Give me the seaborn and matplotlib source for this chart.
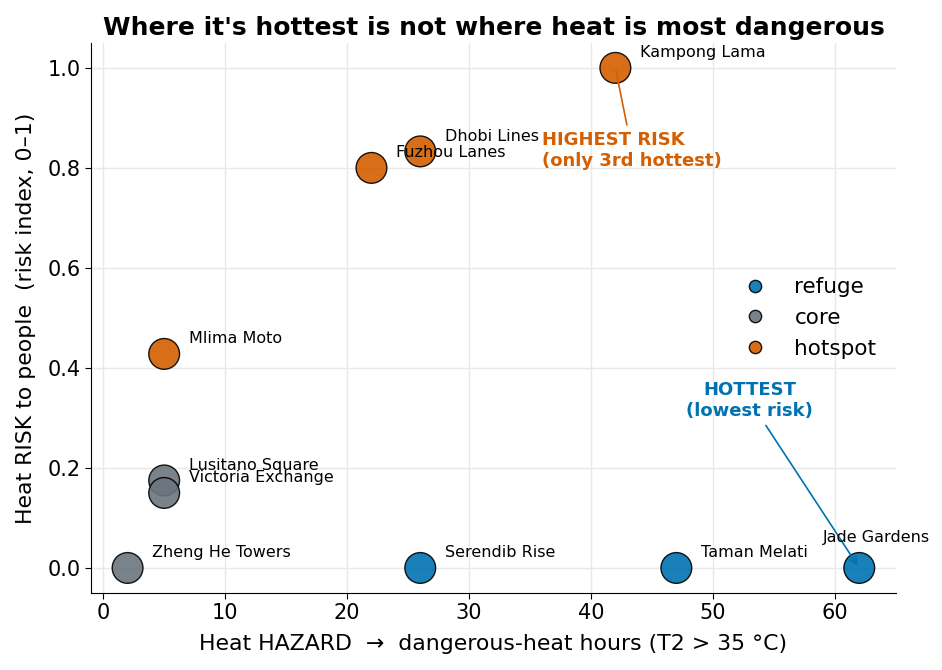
import pandas as pd
import matplotlib
matplotlib.use("Agg")
import matplotlib.pyplot as plt
import seaborn as sns

# data
places = ["Kampong Lama", "Dhobi Lines", "Fuzhou Lanes", "Mlima Moto",
          "Lusitano Square", "Victoria Exchange", "Zheng He Towers",
          "Serendib Rise", "Taman Melati", "Jade Gardens"]
hazard_hours = [42, 26, 22, 5, 5, 5, 2, 26, 47, 62]
risk_index = [1.0, 0.833, 0.8, 0.428, 0.175, 0.15, 0.0, 0.0, 0.0, 0.0]
group = ["hotspot", "hotspot", "hotspot", "hotspot", "core", "core", "core",
         "refuge", "refuge", "refuge"]
group_order = ["refuge", "core", "hotspot"]
colors = {"refuge": "#0072B2", "core": "#6c757d", "hotspot": "#D55E00"}

df = pd.DataFrame({"place": places, "hazard": hazard_hours,
                   "risk": risk_index, "group": group})

sns.set_style("ticks")
plt.rcParams.update({"text.color": "black", "axes.labelcolor": "black",
                     "xtick.color": "black", "ytick.color": "black",
                     "axes.edgecolor": "black"})
fig, ax = plt.subplots(figsize=(9.42, 6.7), dpi=100)

sns.scatterplot(data=df, x="hazard", y="risk", hue="group",
                hue_order=group_order, palette=colors, s=490,
                edgecolor="black", linewidth=1, alpha=0.9, ax=ax, zorder=3)

# point labels
for _, r in df.iterrows():
    if r["place"] == "Jade Gardens":
        ax.text(r["hazard"] - 3, r["risk"] + 0.06, r["place"],
                fontsize=11.5, va="center", ha="left", zorder=4)
    else:
        ax.text(r["hazard"] + 2, r["risk"] + 0.03, r["place"],
                fontsize=11.5, va="center", ha="left", zorder=4)

# call-outs
ax.annotate("HIGHEST RISK\n(only 3rd hottest)", xy=(42, 1.0),
            xytext=(36, 0.835), ha="left", va="center",
            fontsize=13, fontweight="bold", color=colors["hotspot"],
            arrowprops=dict(arrowstyle="-", color=colors["hotspot"], lw=1.2))
ax.annotate("HOTTEST\n(lowest risk)", xy=(62, 0.0),
            xytext=(53, 0.335), ha="center", va="center",
            fontsize=13, fontweight="bold", color=colors["refuge"],
            arrowprops=dict(arrowstyle="->", color=colors["refuge"], lw=1.2))

ax.grid(True, color="#e8e8e8", lw=1)
ax.set_axisbelow(True)
sns.despine(ax=ax)

ax.set_title("Where it's hottest is not where heat is most dangerous",
             fontsize=18, fontweight="bold")
ax.set_xlabel("Heat HAZARD  \u2192  dangerous-heat hours (T2 > 35 \u00b0C)",
              fontsize=15.8, labelpad=8)
ax.set_ylabel("Heat RISK to people  (risk index, 0\u20131)",
              fontsize=15.8, labelpad=8)
ax.tick_params(labelsize=15, length=4)

leg = ax.legend(loc="center right", frameon=False, fontsize=15.5,
                markerscale=0.4, handletextpad=0.85)

plt.subplots_adjust(left=0.0966, right=0.951, top=0.936, bottom=0.115)
plt.savefig("out.png", dpi=100)
